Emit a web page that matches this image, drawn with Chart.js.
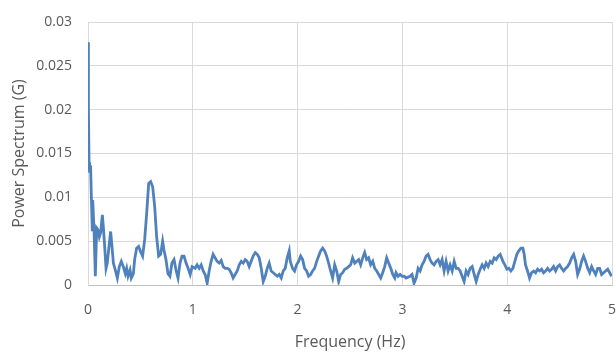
<!DOCTYPE html>
<html>
<head>
<meta charset="utf-8">
<script src="https://cdn.jsdelivr.net/npm/chart.js@4/dist/chart.umd.min.js"></script>
<style>
html,body{margin:0;padding:0;background:#fff;}
#wrap{width:616px;height:352px;position:relative;}
</style>
</head>
<body>
<div id="wrap"><canvas id="c" width="616" height="352"></canvas></div>
<script>
const xTickLabels = ['0','1','2','3','4','5'];
const yTickLabels = ['0','0.005','0.01','0.015','0.02','0.025','0.03'];
const xTitle = 'Frequency (Hz)';
const yTitle = 'Power Spectrum (G)';

const freqs = [
0.000,0.004,0.010,0.013,0.019,0.025,0.032,0.041,0.045,0.057,0.070,0.083,0.095,0.108,0.121,0.137,0.146,0.159,0.172,0.184,
0.197,0.216,0.229,0.242,0.261,0.280,0.299,0.318,0.337,0.356,0.369,0.382,0.401,0.413,0.433,0.445,0.464,0.483,0.502,0.521,
0.541,0.560,0.579,0.598,0.617,0.636,0.655,0.674,0.693,0.712,0.725,0.744,0.763,0.782,0.801,0.821,0.840,0.859,0.878,0.897,
0.916,0.936,0.955,0.975,0.994,1.022,1.041,1.061,1.080,1.099,1.118,1.137,1.156,1.175,1.194,1.213,1.232,1.252,1.271,1.290,
1.309,1.328,1.347,1.366,1.385,1.404,1.424,1.443,1.462,1.481,1.500,1.519,1.538,1.557,1.576,1.596,1.615,1.634,1.653,1.672,
1.691,1.710,1.729,1.748,1.768,1.787,1.806,1.825,1.844,1.863,1.882,1.901,1.920,1.930,1.952,1.971,1.990,2.010,2.029,2.048,
2.067,2.086,2.105,2.124,2.143,2.162,2.182,2.201,2.220,2.239,2.258,2.277,2.296,2.315,2.334,2.354,2.373,2.392,2.411,2.430,
2.449,2.468,2.487,2.506,2.525,2.545,2.564,2.583,2.602,2.621,2.640,2.659,2.678,2.697,2.717,2.736,2.755,2.774,2.793,2.812,
2.831,2.850,2.869,2.889,2.908,2.927,2.939,2.959,2.978,2.997,3.016,3.035,3.054,3.073,3.092,3.111,3.131,3.150,3.169,3.188,
3.207,3.226,3.245,3.264,3.283,3.303,3.322,3.341,3.360,3.379,3.398,3.417,3.436,3.455,3.475,3.494,3.513,3.532,3.551,3.570,
3.589,3.608,3.627,3.646,3.666,3.685,3.704,3.723,3.742,3.761,3.780,3.799,3.818,3.838,3.857,3.876,3.895,3.914,3.933,3.959,
3.978,3.997,4.016,4.035,4.054,4.073,4.092,4.111,4.131,4.150,4.162,4.175,4.194,4.213,4.232,4.252,4.271,4.290,4.309,4.328,
4.347,4.366,4.385,4.404,4.424,4.443,4.462,4.481,4.500,4.519,4.538,4.557,4.576,4.596,4.615,4.634,4.653,4.672,4.691,4.710,
4.729,4.748,4.768,4.787,4.806,4.825,4.844,4.863,4.882,4.901,4.920,4.939,4.959,4.978,4.997
];
const power = [
0.0277,0.0200,0.0140,0.0128,0.0137,0.0135,0.0101,0.0063,0.0097,0.0065,0.0010,0.0065,0.0063,0.0055,0.0060,0.0080,0.0067,0.0044,0.0019,0.0025,
0.0040,0.0061,0.0044,0.0025,0.0017,0.0008,0.0021,0.0027,0.0021,0.0013,0.0019,0.0010,0.0017,0.0008,0.0013,0.0029,0.0042,0.0044,0.0038,0.0033,
0.0052,0.0082,0.0116,0.0118,0.0112,0.0090,0.0055,0.0033,0.0035,0.0050,0.0040,0.0029,0.0013,0.0010,0.0025,0.0029,0.0017,0.0008,0.0025,0.0033,
0.0033,0.0025,0.0019,0.0012,0.0021,0.0019,0.0023,0.0019,0.0023,0.0016,0.0012,0.0002,0.0016,0.0027,0.0035,0.0031,0.0027,0.0025,0.0028,0.0021,
0.0019,0.0019,0.0018,0.0014,0.0008,0.0012,0.0016,0.0023,0.0027,0.0025,0.0029,0.0027,0.0021,0.0027,0.0033,0.0037,0.0035,0.0031,0.0019,0.0004,
0.0010,0.0019,0.0025,0.0016,0.0014,0.0012,0.0010,0.0012,0.0008,0.0016,0.0019,0.0031,0.0039,0.0027,0.0019,0.0016,0.0023,0.0027,0.0033,0.0029,
0.0019,0.0016,0.0010,0.0012,0.0016,0.0019,0.0027,0.0033,0.0039,0.0042,0.0039,0.0033,0.0025,0.0016,0.0008,0.0023,0.0016,0.0004,0.0012,0.0014,
0.0018,0.0019,0.0021,0.0023,0.0031,0.0025,0.0027,0.0029,0.0023,0.0031,0.0037,0.0029,0.0031,0.0023,0.0027,0.0019,0.0016,0.0012,0.0008,0.0014,
0.0021,0.0031,0.0025,0.0019,0.0012,0.0008,0.0014,0.0010,0.0012,0.0010,0.0010,0.0008,0.0009,0.0010,0.0012,0.0002,0.0008,0.0019,0.0016,0.0023,
0.0027,0.0033,0.0035,0.0029,0.0025,0.0023,0.0027,0.0029,0.0023,0.0029,0.0016,0.0027,0.0016,0.0023,0.0016,0.0027,0.0019,0.0019,0.0016,0.0010,
0.0004,0.0016,0.0012,0.0019,0.0021,0.0012,0.0004,0.0012,0.0018,0.0023,0.0019,0.0025,0.0021,0.0027,0.0025,0.0031,0.0029,0.0033,0.0035,0.0027,
0.0023,0.0018,0.0019,0.0016,0.0019,0.0027,0.0035,0.0039,0.0042,0.0042,0.0035,0.0023,0.0016,0.0008,0.0014,0.0016,0.0014,0.0018,0.0016,0.0018,
0.0014,0.0016,0.0019,0.0016,0.0018,0.0021,0.0016,0.0021,0.0023,0.0019,0.0016,0.0019,0.0021,0.0025,0.0031,0.0035,0.0027,0.0012,0.0018,0.0027,
0.0033,0.0027,0.0019,0.0014,0.0021,0.0016,0.0012,0.0019,0.0019,0.0012,0.0014,0.0016,0.0018,0.0014,0.0010
];

const points = freqs.map((f, i) => ({x: f, y: power[i]}));
const textColor = '#595959';
const fontFamily = '"Open Sans", "Liberation Sans", sans-serif';

new Chart(document.getElementById('c'), {
  type: 'line',
  data: {
    datasets: [{
      data: points,
      borderColor: '#4F81BD',
      borderWidth: 2.8,
      pointRadius: 0,
      tension: 0,
      fill: false
    }]
  },
  options: {
    responsive: false,
    animation: false,
    layout: {padding: {left: 0, right: 4, top: 22, bottom: 0}},
    plugins: {legend: {display: false}, tooltip: {enabled: false}},
    scales: {
      x: {
        type: 'linear',
        min: 0, max: 5,
        afterFit: s => { s.height = 67; s.paddingLeft = 0; s.paddingRight = 0; },
        ticks: {
          stepSize: 1,
          padding: 17,
          color: textColor,
          font: {family: fontFamily, size: 14},
          callback: (v) => xTickLabels[Math.round(v)]
        },
        grid: {color: '#d9d9d9', lineWidth: 1, drawTicks: false},
        border: {color: '#bfbfbf', width: 1},
        title: {
          display: true, text: xTitle, color: textColor,
          font: {family: fontFamily, size: 16},
          padding: {top: 0, bottom: 0}
        }
      },
      y: {
        min: 0, max: 0.03,
        afterFit: s => { s.width = 88; s.paddingTop = 0; s.paddingBottom = 0; },
        ticks: {
          stepSize: 0.005,
          padding: 16,
          color: textColor,
          font: {family: fontFamily, size: 14},
          callback: (v) => yTickLabels[Math.round(v / 0.005)]
        },
        grid: {color: '#d9d9d9', lineWidth: 1, drawTicks: false},
        border: {color: '#d9d9d9', width: 1},
        title: {
          display: true, text: yTitle, color: textColor,
          font: {family: fontFamily, size: 16},
          padding: {top: 10, bottom: 0}
        }
      }
    }
  }
});
</script>
</body>
</html>
